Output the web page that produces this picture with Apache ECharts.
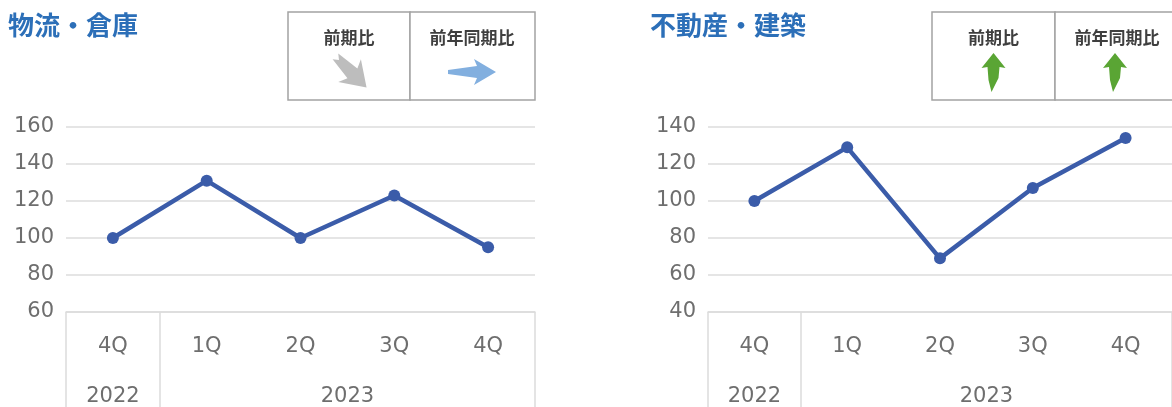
<!DOCTYPE html>
<html>
<head>
<meta charset="utf-8">
<style>html,body{margin:0;padding:0;background:#fff}#c{width:1172px;height:407px}</style>
<script src="https://cdn.jsdelivr.net/npm/echarts@6/dist/echarts.min.js"></script>
</head>
<body>
<div id="c"></div>
<script>
// ---- data ----
const quarters = ['4Q', '1Q', '2Q', '3Q', '4Q'];
const years = ['2022', '2023'];
const yearSpans = [[0, 1], [1, 5]]; // in category bands
const logisticsTitle = '物流・倉庫';
const realEstateTitle = '不動産・建築';
const logisticsValues = [100, 131, 100, 123, 95];
const realEstateValues = [100, 129, 69, 107, 134];
const logisticsTicks = [60, 80, 100, 120, 140, 160];
const realEstateTicks = [40, 60, 80, 100, 120, 140];
const boxLabels = ['前期比', '前年同期比'];

const FONT = '"Noto Sans CJK JP", "Noto Sans", sans-serif';
const NUMFONT = '"DejaVu Sans", sans-serif';
const LINE = '#3b5ca9';
const GRID = '#dcdcdc';
const LABEL = '#6e6e6e';

const tickVals = [];
yearSpans.forEach(s => { if (tickVals.indexOf(s[0]) < 0) tickVals.push(s[0]); if (tickVals.indexOf(s[1]) < 0) tickVals.push(s[1]); });
const yearCenters = yearSpans.map(s => (s[0] + s[1]) / 2);

function catAxis(gi) {
  return {
    type: 'category', gridIndex: gi, data: quarters, boundaryGap: true, position: 'bottom',
    axisLine: { show: true, lineStyle: { color: GRID, width: 1.5 } },
    axisTick: { show: false },
    axisLabel: { margin: 24, fontSize: 21, color: LABEL, fontFamily: NUMFONT },
    splitLine: { show: false }
  };
}
function yearAxis(gi) {
  return {
    type: 'value', gridIndex: gi, min: 0, max: quarters.length, position: 'bottom',
    axisLine: { show: false },
    splitLine: { show: false },
    axisTick: { show: true, customValues: tickVals, length: 120, lineStyle: { color: GRID, width: 1.5 } },
    axisLabel: {
      show: true, customValues: yearCenters, margin: 74, fontSize: 21, color: LABEL, fontFamily: NUMFONT,
      formatter: v => { for (let i = 0; i < yearSpans.length; i++) { if (v > yearSpans[i][0] && v < yearSpans[i][1]) return years[i]; } return ''; }
    }
  };
}
function valAxis(gi, ticks) {
  return {
    type: 'value', gridIndex: gi, min: ticks[0], max: ticks[ticks.length - 1], interval: ticks[1] - ticks[0],
    axisLine: { show: false }, axisTick: { show: false },
    axisLabel: { margin: 12, fontSize: 21, color: LABEL, fontFamily: NUMFONT },
    splitLine: { show: true, lineStyle: { color: GRID, width: 1.5 } }
  };
}
function lineSeries(xi, yi, data) {
  return {
    type: 'line', xAxisIndex: xi, yAxisIndex: yi, data: data,
    symbol: 'circle', symbolSize: 12,
    lineStyle: { color: LINE, width: 4.5 },
    itemStyle: { color: LINE },
    emphasis: { disabled: true }, animation: false
  };
}

function box(x, y, w1, w2, h, arrows) {
  const els = [];
  els.push({ type: 'rect', shape: { x: x, y: y, width: w1, height: h }, style: { fill: '#fff', stroke: '#a3a3a3', lineWidth: 1.5 } });
  els.push({ type: 'rect', shape: { x: x + w1, y: y, width: w2, height: h }, style: { fill: '#fff', stroke: '#a3a3a3', lineWidth: 1.5 } });
  const cx = [x + w1 / 2, x + w1 + Math.min(w2, 124) / 2];
  boxLabels.forEach((t, i) => {
    els.push({ type: 'text', x: cx[i], y: y + 26, style: { text: t, fontSize: 17, fontWeight: 'bold', fill: '#3f3f3f', fontFamily: FONT, align: 'center', verticalAlign: 'middle' } });
    els.push(Object.assign({ x: cx[i] + (arrows[i].dx || 0), y: y + 60 }, arrows[i].el));
  });
  return els;
}
const straightArrow = (color, rot) => ({
  type: 'polygon', rotation: rot,
  shape: { points: [[-24, -2], [5, -6], [2, -13], [24, 0], [2, 13], [5, 6], [-24, 2]] },
  style: { fill: color }
});
const fatArrow = (color, rot) => ({
  type: 'polygon', rotation: rot,
  shape: { points: [[-22, -4], [2, -7], [-2, -16], [22, 0], [-2, 16], [2, 7], [-22, 4], [-17, 0]] },
  style: { fill: color }
});
const upArrow = color => ({
  type: 'polygon',
  shape: { points: [[0, -19], [12, -4], [6, -5], [5, 6], [-2, 20], [-5, 8], [-6, -5], [-12, -4]] },
  style: { fill: color }
});

const chart = echarts.init(document.getElementById('c'), null, { renderer: 'canvas' });
chart.setOption({
  animation: false,
  backgroundColor: '#fff',
  title: [
    { text: logisticsTitle, left: 8, top: 12, padding: 0, textStyle: { fontSize: 26, fontWeight: 'bold', color: '#2c6fb8', fontFamily: FONT } },
    { text: realEstateTitle, left: 650, top: 12, padding: 0, textStyle: { fontSize: 26, fontWeight: 'bold', color: '#2c6fb8', fontFamily: FONT } }
  ],
  grid: [
    { left: 66, top: 127, width: 469, height: 186 },
    { left: 708, top: 127, width: 470, height: 186 }
  ],
  xAxis: [catAxis(0), yearAxis(0), catAxis(1), yearAxis(1)],
  yAxis: [valAxis(0, logisticsTicks), valAxis(1, realEstateTicks)],
  series: [lineSeries(0, 0, logisticsValues), lineSeries(2, 1, realEstateValues)],
  graphic: [].concat(
    box(288, 12, 122, 125, 88, [
      { el: fatArrow('#bdbdbd', -Math.PI / 4), dx: 2 },
      { el: straightArrow('#82afdf', 0), dx: 0 }
    ]),
    box(932, 12, 123, 130, 88, [
      { el: upArrow('#5aa534'), dx: 0 },
      { el: upArrow('#5aa534'), dx: -2 }
    ])
  )
});
</script>
</body>
</html>
